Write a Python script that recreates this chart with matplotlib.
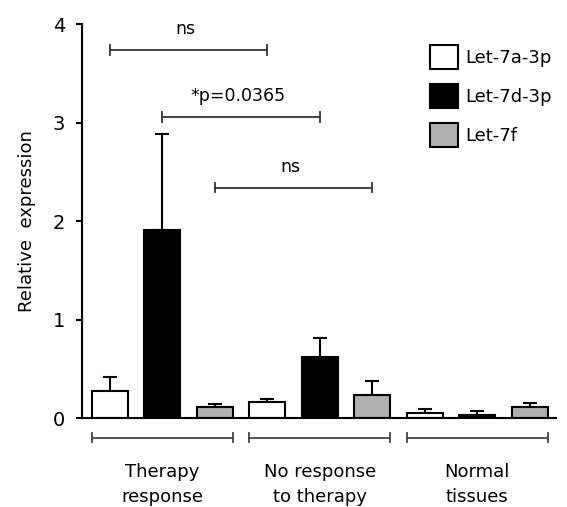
import numpy as np
import matplotlib
matplotlib.use("Agg")
import matplotlib.pyplot as plt

groups = ["Therapy\nresponse", "No response\nto therapy", "Normal\ntissues"]
series = ["Let-7a-3p", "Let-7d-3p", "Let-7f"]
colors = ["white", "black", "#b0b0b0"]

# mean and upper error (SEM) per group for each miRNA
means = {
    "Let-7a-3p": [0.27, 0.16, 0.055],
    "Let-7d-3p": [1.91, 0.62, 0.034],
    "Let-7f": [0.115, 0.235, 0.11],
}
errs = {
    "Let-7a-3p": [0.15, 0.035, 0.04],
    "Let-7d-3p": [0.97, 0.19, 0.034],
    "Let-7f": [0.03, 0.145, 0.04],
}

# significance comparisons: (bar index a, bar index b, height, label)
sig = [(0, 3, 3.735, "ns"), (1, 4, 3.06, "*p=0.0365"), (2, 5, 2.34, "ns")]

plt.rcParams["font.family"] = "DejaVu Sans"
fig = plt.figure(figsize=(5.67, 5.07), dpi=100)
ax = fig.add_axes([0.1446, 0.1755, 0.836, 0.777])

n_ser = len(series)
w = 0.68
for k, name in enumerate(series):
    x = np.arange(len(groups)) * n_ser + k
    ax.bar(x, means[name], width=w, color=colors[k], edgecolor="black",
           linewidth=1.5, label=name, zorder=2)
    ax.errorbar(x, means[name], yerr=[np.zeros(len(groups)), errs[name]],
                fmt="none", ecolor="black", elinewidth=1.5, capsize=5,
                capthick=1.5, zorder=1)

# group brackets under the axis
for g, label in enumerate(groups):
    x0 = g * n_ser - w / 2
    x1 = g * n_ser + n_ser - 1 + w / 2
    ax.plot([x0, x1], [-0.2, -0.2], color="#444444", lw=1.3, clip_on=False)
    for xe in (x0, x1):
        ax.plot([xe, xe], [-0.245, -0.155], color="#444444", lw=1.3, clip_on=False)
    ax.text(g * n_ser + 1, -0.46, label, ha="center", va="top", fontsize=13,
            linespacing=1.45)

# significance lines
for a, b, h, label in sig:
    ax.plot([a, b], [h, h], color="#333333", lw=1.3)
    for xe in (a, b):
        ax.plot([xe, xe], [h - 0.05, h + 0.05], color="#333333", lw=1.3)
    ax.text((a + b) / 2 - 0.05, h + 0.12, label, ha="center", va="bottom",
            fontsize=12.5)

ax.set_xlim(-0.53, 8.5)
ax.set_ylim(0, 4)
ax.set_yticks([0, 1, 2, 3, 4])
ax.tick_params(axis="y", labelsize=14, length=4, width=1.5, pad=8)
ax.set_xticks([])
ax.spines["top"].set_visible(False)
ax.spines["right"].set_visible(False)
ax.spines["left"].set_linewidth(1.5)
ax.spines["bottom"].set_linewidth(1.5)
ax.set_ylabel("Relative  expression", fontsize=13, labelpad=12)

ax.legend(loc="upper left", bbox_to_anchor=(0.72, 0.965), frameon=False,
          fontsize=13, handlelength=1.5, handleheight=1.7,
          labelspacing=0.8, handletextpad=0.4, borderaxespad=0)

fig.savefig("out.png", dpi=100)
